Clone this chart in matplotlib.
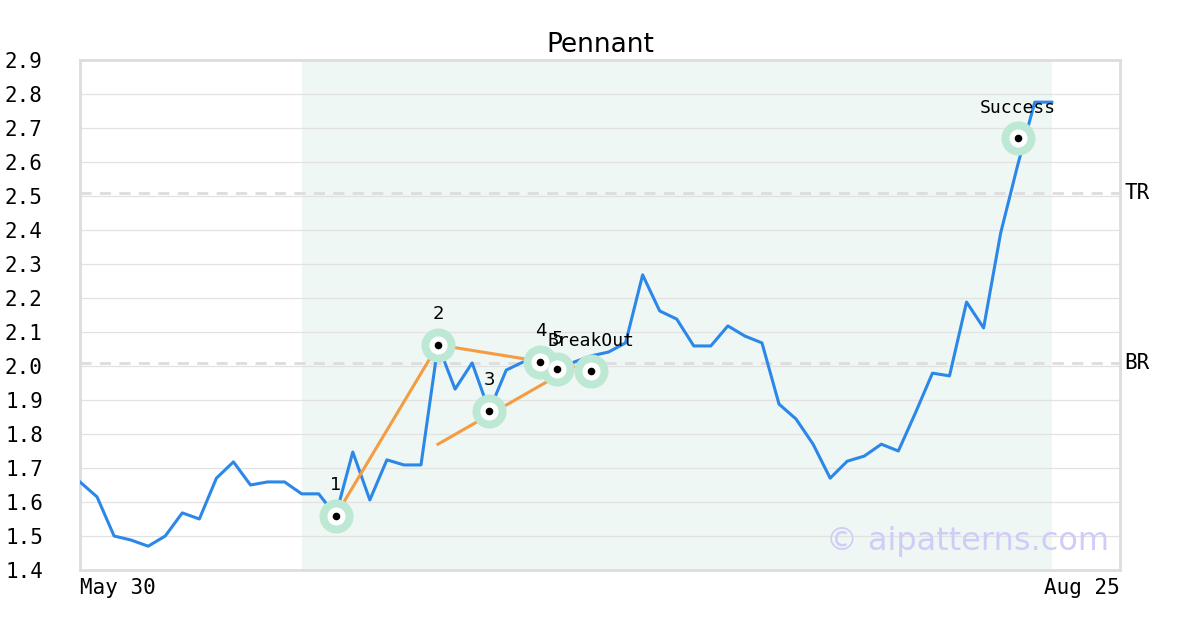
import matplotlib.pyplot as plt
import numpy as np

# price series (one value per trading day)
prices = [1.659, 1.615, 1.50, 1.488, 1.47, 1.50, 1.568, 1.55, 1.67, 1.718,
          1.65, 1.659, 1.659, 1.624, 1.624, 1.56, 1.747, 1.606, 1.724, 1.709,
          1.709, 2.062, 1.932, 2.009, 1.868, 1.988, 2.012, 2.012, 1.991, 2.012,
          2.03, 2.041, 2.068, 2.268, 2.162, 2.138, 2.059, 2.059, 2.118, 2.088,
          2.068, 1.888, 1.844, 1.77, 1.67, 1.72, 1.735, 1.77, 1.75, 1.862,
          1.979, 1.971, 2.188, 2.112, 2.391, 2.591, 2.776, 2.776]

# pattern points
pt_idx = [15, 21, 24, 27, 28, 30, 55]
pt_val = [1.56, 2.062, 1.868, 2.012, 1.991, 1.985, 2.67]
pt_lbl = ["1", "2", "3", "4", "5", "BreakOut", "Success"]

# trend lines (upper / lower)
upper_x = [15, 21, 28.93]
upper_y = [1.56, 2.062, 1.998]
lower_x = [21, 28.93]
lower_y = [1.77, 1.998]

tr_level = 2.509
br_level = 2.009
shade_range = (13, 57)
x_max = 61
date_labels = ["May 30", "Aug 25"]
y_ticks = [1.4, 1.5, 1.6, 1.7, 1.8, 1.9, 2.0, 2.1, 2.2, 2.3, 2.4, 2.5, 2.6, 2.7, 2.8, 2.9]

MONO = "DejaVu Sans Mono"


def main():
    fig = plt.figure(figsize=(12, 6.3), dpi=100)
    ax = fig.add_axes([80 / 1200, 1 - 570 / 630, 1040 / 1200, 510 / 630])

    x = np.arange(len(prices))
    ax.axvspan(*shade_range, color="#eef7f3", zorder=0, lw=0)
    for v in y_ticks:
        ax.axhline(v, color="#e2e2e2", lw=0.9, zorder=1)
    for lvl, name in [(tr_level, "TR"), (br_level, "BR")]:
        ax.axhline(lvl, color="#dddddd", lw=2, ls=(0, (4, 3)), zorder=1)
        ax.text(1.004, lvl, name, transform=ax.get_yaxis_transform(),
                fontsize=15, family=MONO, va="center", ha="left")

    ax.plot(x, prices, color="#2b87e8", lw=2.2, zorder=3)
    ax.plot(upper_x, upper_y, color="#f59b42", lw=2.2, zorder=4)
    ax.plot(lower_x, lower_y, color="#f59b42", lw=2.2, zorder=4)

    ax.scatter(pt_idx, pt_val, s=600, color="#bde8d4", zorder=5, lw=0)
    ax.scatter(pt_idx, pt_val, s=170, color="white", zorder=6, lw=0)
    ax.scatter(pt_idx, pt_val, s=30, color="black", zorder=7, lw=0)
    for i, v, t in zip(pt_idx, pt_val, pt_lbl):
        fam = MONO if len(t) > 1 else "DejaVu Sans"
        ax.annotate(t, (i, v), xytext=(0, 22), textcoords="offset points",
                    ha="center", va="center", fontsize=13, family=fam, zorder=8)

    ax.text(0.99, 0.055, "\u00a9 aipatterns.com", transform=ax.transAxes,
            ha="right", va="center", fontsize=23, color="#cfcdf7", zorder=8)

    ax.set_xlim(0, x_max)
    ax.set_ylim(1.4, 2.9)
    ax.set_yticks(y_ticks)
    ax.set_yticklabels([f"{v:.1f}" for v in y_ticks], family=MONO, fontsize=15, ha="left")
    ax.tick_params(axis="y", length=0, pad=54)
    ax.set_xticks([0, x_max])
    ax.set_xticklabels(date_labels, family=MONO, fontsize=15)
    ax.get_xticklabels()[0].set_ha("left")
    ax.get_xticklabels()[1].set_ha("right")
    ax.tick_params(axis="x", length=0, pad=6)
    for s in ax.spines.values():
        s.set_color("#dddddd")
        s.set_linewidth(2)
    ax.set_title("Pennant", fontsize=19, pad=6)

    fig.savefig("out.png", dpi=100)
    plt.close(fig)


if __name__ == '__main__':
    main()
